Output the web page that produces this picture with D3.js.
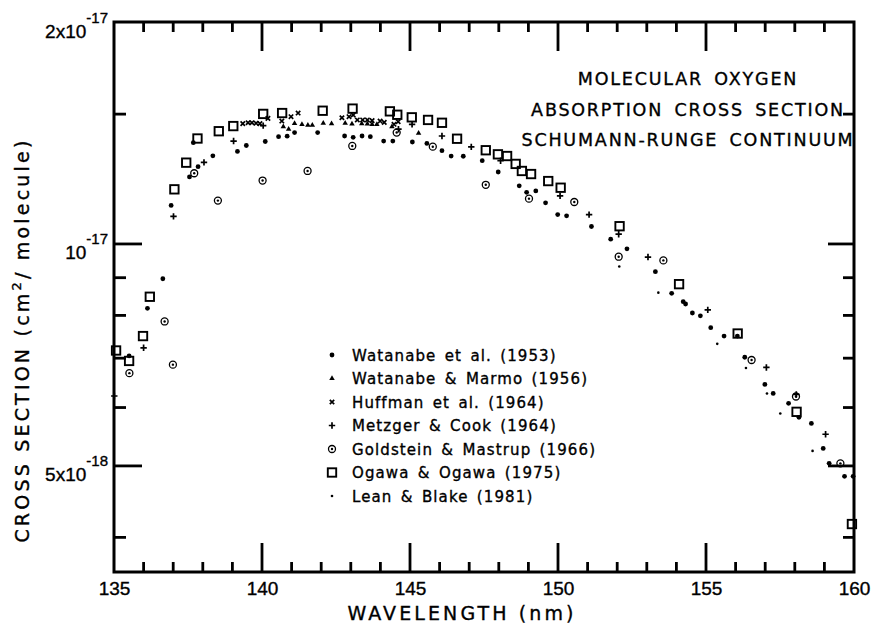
<!DOCTYPE html>
<html>
<head>
<meta charset="utf-8">
<script src="https://cdn.jsdelivr.net/npm/d3@7"></script>
<style>
  body { margin: 0; background: #fff; }
  svg { display: block; }
  text { font-family: "DejaVu Sans", sans-serif; fill: #000; stroke: #000; stroke-width: 0.35px; }
</style>
</head>
<body>
<div id="chart"></div>
<script>
// cross sections in units of 1e-18 cm^2/molecule, wavelength in nm
const watanabe1953 = [
  [135.51,7.05],[136.13,8.18],[136.65,8.97],[136.93,11.28],[137.55,12.33],[137.68,13.72],
  [137.84,12.73],[138.34,13.17],[139.17,13.35],[139.47,13.60],[140.11,13.77],[140.56,13.98],
  [140.85,14.00],[141.10,14.16],[141.88,14.16],[142.79,14.01],[143.08,13.95],[143.38,14.01],
  [143.66,13.98],[144.11,13.79],[144.42,13.79],[145.08,13.75],[145.57,13.69],[146.08,13.38],
  [146.39,13.16],[146.80,13.15],[147.44,12.97],[147.98,12.52],[148.69,11.99],[148.94,11.75],
  [149.25,11.80],[149.58,11.37],[149.99,10.96],[150.29,10.92],[151.13,10.56],[151.78,10.15],
  [152.33,9.85],[153.29,9.17],[153.84,8.57],[154.23,8.35],[154.31,8.29],[154.54,8.06],
  [154.81,7.99],[155.16,7.70],[155.61,7.50],[156.06,7.50],[156.31,7.02],[156.99,6.45],
  [157.27,6.27],[157.79,6.08],[158.14,5.82],[158.56,5.71],[158.96,5.28],[159.16,5.04],
  [159.68,4.84],[159.97,4.84]
];
const watanabeMarmo1956 = [
  [140.72,14.42],[140.90,14.31],[141.10,14.57],[141.35,14.53],[141.55,14.49],[141.70,14.49],
  [142.07,14.58],[142.35,14.56],[142.81,14.58],[143.04,14.55],[143.37,14.56],[143.56,14.55],
  [143.72,14.53],[143.88,14.53],[144.39,14.42],[145.29,14.13]
];
const huffman1964 = [
  [139.35,14.56],[139.53,14.60],[139.66,14.60],[139.80,14.58],[139.93,14.56],[140.20,14.80],
  [140.67,14.68],[140.98,14.88],[141.22,15.05],[142.70,14.83],[142.94,14.88],[143.08,14.96],
  [143.22,14.73],[143.40,14.73],[143.56,14.73],[143.72,14.70],[143.99,14.68],[144.13,14.62],
  [144.46,14.53],[144.60,14.65]
];
const metzgerCook1964 = [
  [135.01,6.22],[136.00,7.23],[137.01,10.90],[138.04,12.90],[139.04,13.79],[140.04,14.47],
  [144.61,14.31],[145.07,14.53],[146.08,14.01],[147.07,13.54],[148.06,12.97],[150.07,11.62],
  [151.05,10.96],[152.05,10.31],[153.04,9.60],[155.06,8.14],[157.04,6.80],[158.05,6.25],
  [159.04,5.52]
];
const goldsteinMastrup1966 = [
  [135.52,6.68],[136.71,7.85],[136.99,6.86],[137.71,12.47],[138.51,11.45],[140.02,12.19],
  [141.54,12.56],[143.05,13.58],[144.55,14.16],[145.77,13.55],[147.56,12.03],[149.02,11.52],
  [150.55,11.40],[152.05,9.61],[153.56,9.50],[156.54,6.96],[158.04,6.21],[159.54,5.04]
];
const ogawa1975 = [
  [135.07,7.17],[135.51,6.94],[135.98,7.50],[136.21,8.48],[137.04,11.86],[137.44,12.89],
  [137.82,13.90],[138.54,14.22],[139.03,14.45],[140.04,15.01],[140.68,15.05],[142.05,15.16],
  [143.06,15.26],[144.32,15.13],[144.57,14.97],[145.06,14.85],[145.61,14.73],[146.08,14.60],
  [146.59,13.89],[147.56,13.40],[147.97,13.23],[148.28,13.16],[148.57,12.84],[148.78,12.56],
  [149.09,12.44],[149.67,12.17],[150.09,11.92],[152.08,10.57],[154.09,8.82],[156.07,7.56],
  [158.06,5.92],[159.93,4.17]
];
const leanBlake1981 = [
  [152.07,9.32],[153.39,8.59],[155.38,7.32],[156.35,6.79],[157.06,6.27],[157.51,5.89],[158.60,5.24]
];

const UNIT = 1e-18;
const xMajor = [135, 140, 145, 150, 155, 160];
const yMajor = [5, 10, 20];
const yMajorLabels = [["5x10", "-18"], ["10", "-17"], ["2x10", "-17"]];
const yMinor = [4, 6, 7, 8, 9, 15];
const titleLines = ["MOLECULAR OXYGEN", "ABSORPTION CROSS SECTION", "SCHUMANN-RUNGE CONTINUUM"];

const series = [
  { name: "Watanabe et al. (1953)", data: watanabe1953, sym: "dot" },
  { name: "Watanabe & Marmo (1956)", data: watanabeMarmo1956, sym: "tri" },
  { name: "Huffman et al. (1964)", data: huffman1964, sym: "x" },
  { name: "Metzger & Cook (1964)", data: metzgerCook1964, sym: "plus" },
  { name: "Goldstein & Mastrup (1966)", data: goldsteinMastrup1966, sym: "circ" },
  { name: "Ogawa & Ogawa (1975)", data: ogawa1975, sym: "square" },
  { name: "Lean & Blake (1981)", data: leanBlake1981, sym: "tiny" }
];

const width = 872, height = 628;
const margin = { top: 22, right: 18, bottom: 56, left: 114 };

const svg = d3.select("#chart").append("svg")
  .attr("width", width)
  .attr("height", height);

const x = d3.scaleLinear()
  .domain([135, 160])
  .range([margin.left, width - margin.right]);

const y = d3.scaleLog()
  .domain([3.59 * UNIT, 20 * UNIT])
  .range([height - margin.bottom, margin.top]);

const x0 = margin.left, x1 = width - margin.right;
const y0 = height - margin.bottom, y1 = margin.top;

// frame
svg.append("rect")
  .attr("x", x0)
  .attr("y", y1)
  .attr("width", x1 - x0)
  .attr("height", y0 - y1)
  .attr("fill", "none")
  .attr("stroke", "#000")
  .attr("stroke-width", 3);

// inward ticks, 1 nm minor / 5 nm major
const xTicks = d3.range(136, 160).map(v => ({ v, len: v % 5 === 0 ? 29 : 10 }));
const yTicks = yMinor.map(v => ({ v, major: false }))
  .concat(yMajor.slice(0, 2).map(v => ({ v, major: true })));

const tickG = svg.append("g");
tickG.selectAll(".tb").data(xTicks).join("line").attr("class", "tb")
  .attr("x1", d => x(d.v)).attr("x2", d => x(d.v))
  .attr("y1", y0).attr("y2", d => y0 - d.len);
tickG.selectAll(".tt").data(xTicks).join("line").attr("class", "tt")
  .attr("x1", d => x(d.v)).attr("x2", d => x(d.v))
  .attr("y1", y1).attr("y2", d => y1 + d.len);
tickG.selectAll(".tl").data(yTicks).join("line").attr("class", "tl")
  .attr("x1", x0).attr("x2", d => x0 + (d.major ? 28 : 12))
  .attr("y1", d => y(d.v * UNIT)).attr("y2", d => y(d.v * UNIT));
tickG.selectAll(".tr").data(yTicks).join("line").attr("class", "tr")
  .attr("x1", x1).attr("x2", d => x1 - (d.major ? 26 : 11))
  .attr("y1", d => y(d.v * UNIT)).attr("y2", d => y(d.v * UNIT));
tickG.selectAll("line")
  .attr("stroke", "#000")
  .attr("stroke-width", 2.8);

// x tick labels
const xAxis = svg.append("g")
  .attr("transform", `translate(0,${y0})`)
  .call(d3.axisBottom(x).tickValues(xMajor).tickSize(0).tickPadding(10).tickFormat(d3.format("d")));
xAxis.select(".domain").remove();
xAxis.selectAll(".tick text")
  .style("font-family", "'Liberation Sans', sans-serif")
  .attr("font-size", 19)
  .attr("fill", "#000");

// y tick labels with superscripts
yMajor.forEach((v, i) => {
  const t = svg.append("text")
    .attr("x", 108)
    .attr("y", y(v * UNIT) + 15.5)
    .attr("text-anchor", "end")
    .style("font-family", "'Liberation Sans', sans-serif")
    .attr("font-size", 19);
  t.append("tspan").text(yMajorLabels[i][0]);
  t.append("tspan").attr("dy", -15).attr("font-size", 15).text(yMajorLabels[i][1]);
});

// axis titles
svg.append("text")
  .attr("x", 462)
  .attr("y", 620)
  .attr("text-anchor", "middle")
  .attr("font-size", 19)
  .attr("letter-spacing", 3.1)
  .text("WAVELENGTH (nm)");

const yl = svg.append("text")
  .attr("transform", "translate(29,340) rotate(-90)")
  .attr("text-anchor", "middle")
  .attr("font-size", 19)
  .attr("letter-spacing", 3.2);
yl.append("tspan").text("CROSS SECTION (cm");
yl.append("tspan").attr("dy", -8).attr("font-size", 13).text("2");
yl.append("tspan").attr("dy", 8).text("/ molecule)");

// title block
svg.append("g")
  .selectAll("text")
  .data(titleLines)
  .join("text")
  .attr("x", 688)
  .attr("y", (d, i) => 85 + i * 30.5)
  .attr("text-anchor", "middle")
  .attr("font-size", 17.5)
  .attr("letter-spacing", 1.8)
  .attr("word-spacing", 4)
  .text(d => d);

// markers
function drawSymbol(g, sym) {
  if (sym === "dot") {
    g.append("circle").attr("r", 2.4).attr("fill", "#000");
  } else if (sym === "tiny") {
    g.append("circle").attr("r", 1.3).attr("fill", "#000");
  } else if (sym === "tri") {
    g.append("path").attr("d", d3.symbol(d3.symbolTriangle, 13)()).attr("fill", "#000");
  } else if (sym === "x") {
    g.append("path").attr("d", "M-2.2,-2.2L2.2,2.2M-2.2,2.2L2.2,-2.2")
      .attr("stroke", "#000").attr("stroke-width", 1.7).attr("fill", "none");
  } else if (sym === "plus") {
    g.append("path").attr("d", "M-3.2,0H3.2M0,-3.2V3.2")
      .attr("stroke", "#000").attr("stroke-width", 1.7).attr("fill", "none");
  } else if (sym === "circ") {
    g.append("circle").attr("r", 3.5).attr("fill", "none").attr("stroke", "#000").attr("stroke-width", 1.3);
    g.append("circle").attr("r", 1.2).attr("fill", "#000");
  } else if (sym === "square") {
    g.append("rect").attr("x", -4.2).attr("y", -4.2).attr("width", 8.4).attr("height", 8.4)
      .attr("fill", "none").attr("stroke", "#000").attr("stroke-width", 1.9);
  }
}

const plot = svg.append("g");
series.forEach(s => {
  plot.append("g")
    .selectAll("g")
    .data(s.data)
    .join("g")
    .attr("transform", d => `translate(${x(d[0])},${y(d[1] * UNIT)})`)
    .each(function () { drawSymbol(d3.select(this), s.sym); });
});

// legend
const legend = svg.append("g").attr("transform", "translate(332,355)");
series.forEach((s, i) => {
  const row = legend.append("g").attr("transform", `translate(0,${i * 23.5})`);
  drawSymbol(row.append("g"), s.sym);
  row.append("text")
    .attr("x", 20)
    .attr("y", 5.5)
    .attr("font-size", 15)
    .attr("letter-spacing", 1.1)
    .attr("word-spacing", 2.5)
    .text(s.name);
});
</script>
</body>
</html>
